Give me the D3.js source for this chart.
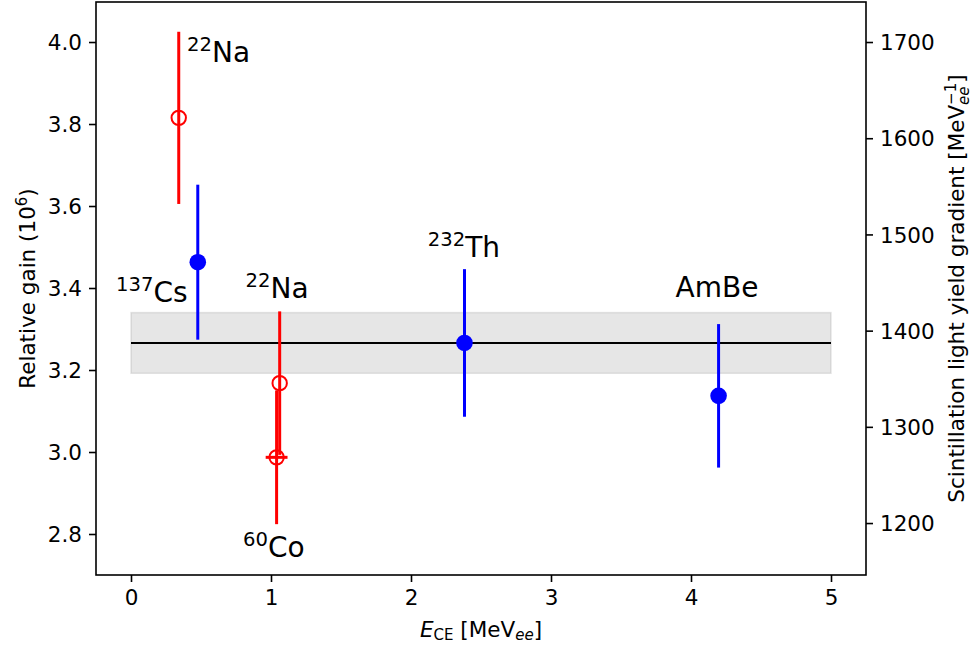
<!DOCTYPE html>
<html>
<head>
<meta charset="utf-8">
<script src="https://cdn.jsdelivr.net/npm/d3@7/dist/d3.min.js"></script>
<style>
  html, body { margin: 0; padding: 0; background: #fff; }
  svg { display: block; font-family: "DejaVu Sans", sans-serif; }
</style>
</head>
<body>
<svg id="chart" width="973" height="648"></svg>
<script>
// ---- data ----
const sourceSup   = ["22", "137", "22", "60", "232", ""];
const sourceName  = ["Na", "Cs", "Na", "Co", "Th", "AmBe"];
const energy      = [0.341, 0.477, 1.062, 1.040, 2.382, 4.197];   // E_CE [MeV_ee]
const energyErr   = [0, 0, 0, 0.078, 0, 0];
const gain        = [3.815, 3.463, 3.168, 2.987, 3.266, 3.137];   // relative gain (10^6)
const gainErr     = [0.210, 0.189, 0.175, 0.163, 0.180, 0.175];
const filledPoint = [false, true, false, false, true, true];
const labelX      = [0.40, -0.107, 0.818, 0.80, 2.12, 3.89];
const labelY      = [3.952, 3.367, 3.375, 2.744, 3.475, 3.379];
const meanGain    = 3.266;
const meanBandLo  = 3.192;
const meanBandHi  = 3.340;
const meanRange   = [0, 5];
const xTicks      = [0, 1, 2, 3, 4, 5];
const yLeftTicks  = [2.8, 3.0, 3.2, 3.4, 3.6, 3.8, 4.0];
const yRightTicks = [1200, 1300, 1400, 1500, 1600, 1700];
const xDomain     = [-0.25, 5.25];
const yLeftDomain = [2.7, 4.0976];
const yRightDomain= [1146, 1741.6];

// ---- layout ----
const L = 96, R = 866, T = 2, B = 575;
const FS = 21.5, FSS = 15;
const svg = d3.select("#chart");
const x  = d3.scaleLinear().domain(xDomain).range([L, R]);
const yL = d3.scaleLinear().domain(yLeftDomain).range([B, T]);
const yR = d3.scaleLinear().domain(yRightDomain).range([B, T]);

const RED = "#ff0000", BLUE = "#0000ff";

// band
svg.append("rect")
  .attr("x", x(meanRange[0])).attr("width", x(meanRange[1]) - x(meanRange[0]))
  .attr("y", yL(meanBandHi)).attr("height", yL(meanBandLo) - yL(meanBandHi))
  .attr("fill", "#808080").attr("fill-opacity", 0.2)
  .attr("stroke", "#808080").attr("stroke-opacity", 0.2).attr("stroke-width", 1.5);

// mean line
svg.append("line")
  .attr("x1", x(meanRange[0])).attr("x2", x(meanRange[1]))
  .attr("y1", yL(meanGain)).attr("y2", yL(meanGain))
  .attr("stroke", "#000").attr("stroke-width", 2);

// points
const pts = energy.map((e, i) => ({ e, ee: energyErr[i], g: gain[i], ge: gainErr[i], f: filledPoint[i] }));
const order = [0, 2, 3, 1, 4, 5];
order.forEach(i => {
  const d = pts[i];
  const col = d.f ? BLUE : RED;
  svg.append("line")
    .attr("x1", x(d.e)).attr("x2", x(d.e))
    .attr("y1", yL(d.g - d.ge)).attr("y2", yL(d.g + d.ge))
    .attr("stroke", col).attr("stroke-width", 3);
  if (d.ee > 0) {
    svg.append("line")
      .attr("x1", x(d.e - d.ee)).attr("x2", x(d.e + d.ee))
      .attr("y1", yL(d.g)).attr("y2", yL(d.g))
      .attr("stroke", col).attr("stroke-width", 3);
  }
});
order.forEach(i => {
  const d = pts[i];
  if (d.f) {
    svg.append("circle").attr("cx", x(d.e)).attr("cy", yL(d.g)).attr("r", 8.3)
      .attr("fill", BLUE);
  } else {
    svg.append("circle").attr("cx", x(d.e)).attr("cy", yL(d.g)).attr("r", 7.2)
      .attr("fill", "none").attr("stroke", RED).attr("stroke-width", 2);
  }
});

// annotations
sourceName.forEach((nm, i) => {
  const t = svg.append("text")
    .attr("x", x(labelX[i])).attr("y", yL(labelY[i]))
    .attr("font-size", 28).attr("fill", "#000");
  if (sourceSup[i]) {
    t.append("tspan").attr("font-size", 19.6).attr("dy", -11).text(sourceSup[i]);
    t.append("tspan").attr("dy", 11).text(nm);
  } else {
    t.text(nm);
  }
});

// frame
svg.append("rect").attr("x", L).attr("y", T).attr("width", R - L).attr("height", B - T)
  .attr("fill", "none").attr("stroke", "#000").attr("stroke-width", 1.6);

// axes
function styleAxis(g) {
  g.select(".domain").remove();
  g.selectAll(".tick line").attr("stroke", "#000").attr("stroke-width", 1.6);
  g.selectAll(".tick text").attr("font-size", FS).attr("fill", "#000")
    .attr("font-family", "DejaVu Sans");
}
const gx = svg.append("g").attr("transform", `translate(0,${B})`)
  .call(d3.axisBottom(x).tickValues(xTicks).tickFormat(d3.format("d")).tickSize(7).tickPadding(7));
styleAxis(gx);
gx.selectAll(".tick text").attr("dy", "0.75em");

const gl = svg.append("g").attr("transform", `translate(${L},0)`)
  .call(d3.axisLeft(yL).tickValues(yLeftTicks).tickFormat(d3.format(".1f")).tickSize(7).tickPadding(7));
styleAxis(gl);
gl.selectAll(".tick text").attr("dy", "0.36em");

const gr = svg.append("g").attr("transform", `translate(${R},0)`)
  .call(d3.axisRight(yR).tickValues(yRightTicks).tickFormat(d3.format("d")).tickSize(7).tickPadding(7));
styleAxis(gr);
gr.selectAll(".tick text").attr("dy", "0.36em");

// x label
const xl = svg.append("text").attr("x", (L + R) / 2).attr("y", 636.7)
  .attr("text-anchor", "middle").attr("font-size", FS).attr("fill", "#000")
  .attr("xml:space", "preserve").style("white-space", "pre");
xl.append("tspan").attr("font-style", "italic").text("E");
xl.append("tspan").attr("font-size", FSS).attr("dy", 3.5).text("CE");
xl.append("tspan").attr("dy", -3.5).text(" [MeV");
xl.append("tspan").attr("font-size", FSS).attr("font-style", "italic").attr("dy", 3.5).text("ee");
xl.append("tspan").attr("dy", -3.5).text("]");

// left y label
const yl = svg.append("text")
  .attr("transform", `translate(35,${(T + B) / 2}) rotate(-90)`)
  .attr("text-anchor", "middle").attr("font-size", FS).attr("fill", "#000");
yl.append("tspan").text("Relative gain (10");
yl.append("tspan").attr("font-size", FSS).attr("dy", -8.5).text("6");
yl.append("tspan").attr("dy", 8.5).text(")");

// right y label
const yr = svg.append("text")
  .attr("transform", `translate(964,${(T + B) / 2}) rotate(-90)`)
  .attr("text-anchor", "middle").attr("font-size", FS).attr("fill", "#000");
yr.append("tspan").text("Scintillation light yield gradient [MeV");
const sup = yr.append("tspan").attr("font-size", FSS).attr("dy", -8.5).text("\u22121");
const sub = yr.append("tspan").attr("font-size", FSS).attr("font-style", "italic").attr("dy", 13.5).text("ee");
yr.append("tspan").attr("dy", -5).text("]");
// stack subscript beneath superscript
const supW = sup.node().getComputedTextLength();
const subW = sub.node().getComputedTextLength();
sub.attr("dx", -supW);
yr.select("tspan:last-child").attr("dx", Math.max(0, supW - subW));
</script>
</body>
</html>
